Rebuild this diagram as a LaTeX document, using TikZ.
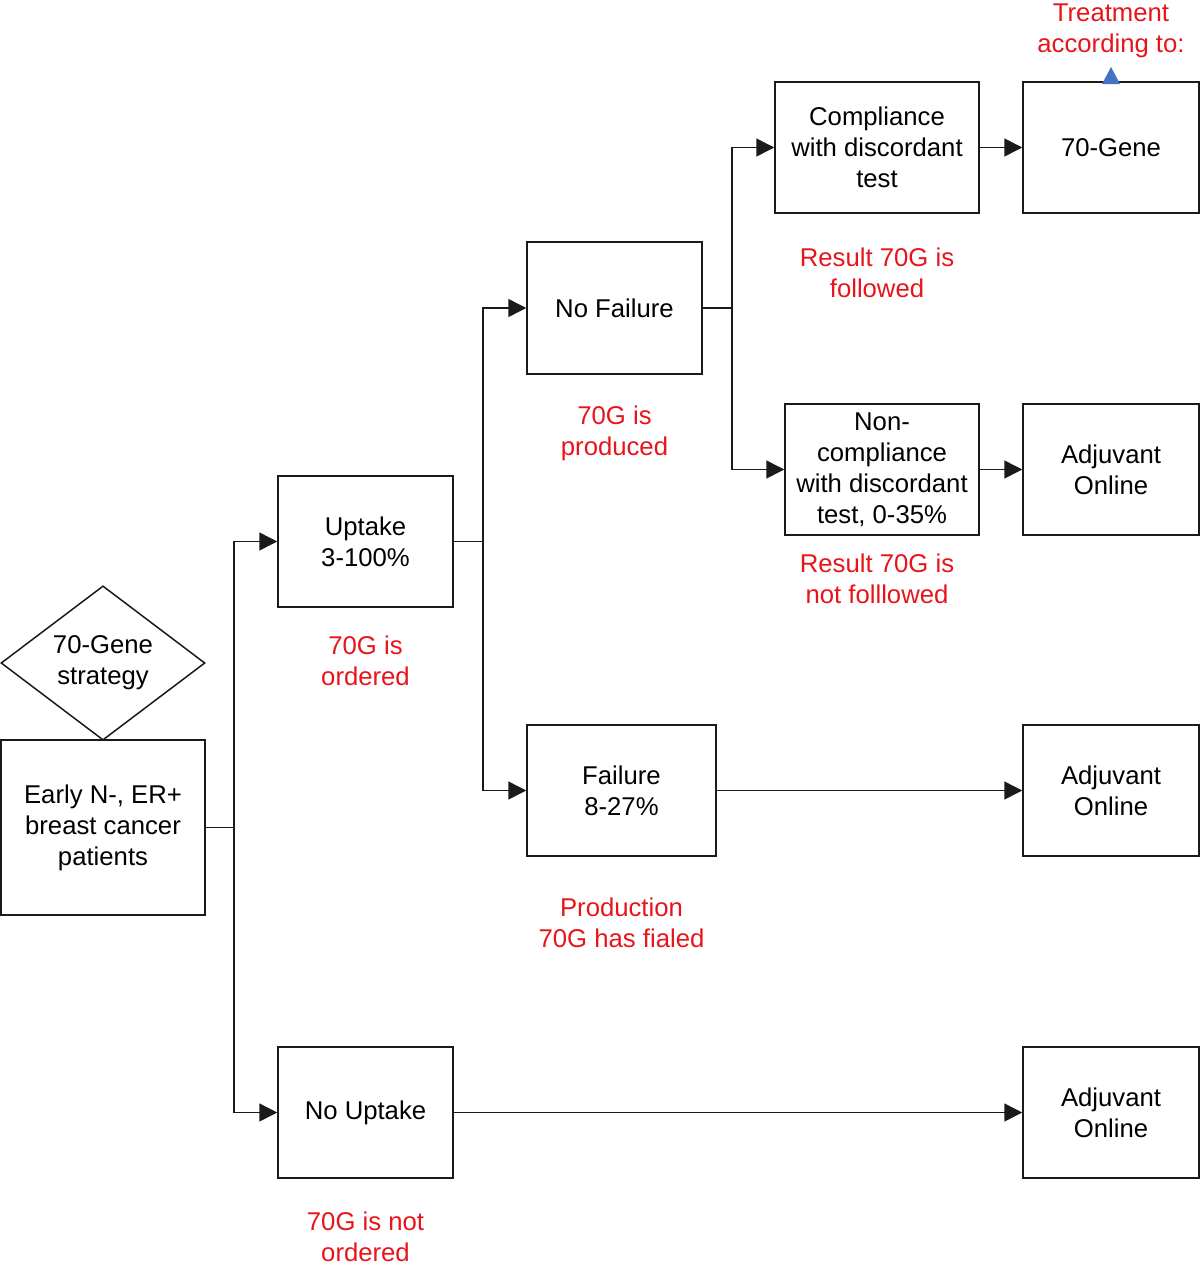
\documentclass[tikz,border=0pt]{standalone}
\usepackage{fontspec}
\setmainfont{Liberation Sans}
\usetikzlibrary{arrows.meta,shapes.geometric}
\definecolor{lblred}{HTML}{E8141B}
\definecolor{triblue}{HTML}{4472C4}
\definecolor{linegray}{HTML}{1A1A1A}
\begin{document}
\begin{tikzpicture}[x=1pt,y=-1pt,
  every node/.style={font=\fontsize{25.7}{31}\selectfont},
  box/.style={draw=linegray,line width=1.5pt,rectangle,inner sep=0pt,align=center},
  lbl/.style={text=lblred,align=center,inner sep=0pt},
  conn/.style={draw=linegray,line width=1.5pt},
  arr/.style={conn,-{Triangle[length=18pt,width=18pt]}}]
\useasboundingbox (0,0) rectangle (1200,1266);
% boxes
\node[box,minimum width=204pt,minimum height=175pt] (early) at (103,827.5) {Early N-, ER+\\breast cancer\\patients};
\node[draw=linegray,line width=1.5pt,diamond,inner sep=0pt,minimum width=204pt,minimum height=154pt,align=center] (strat) at (103,663) {70-Gene\\strategy};
\node[box,minimum width=175pt,minimum height=131pt] (up) at (365.5,541.5) {Uptake\\3-100\%};
\node[box,minimum width=175pt,minimum height=131pt] (nu) at (365.5,1112.5) {No Uptake};
\node[box,minimum width=175pt,minimum height=132pt] (nf) at (614.5,308) {No Failure};
\node[box,minimum width=189pt,minimum height=131pt] (fail) at (621.5,790.5) {Failure\\8-27\%};
\node[box,minimum width=204pt,minimum height=131pt] (comp) at (877,147.5) {Compliance\\with discordant\\test};
\node[box,minimum width=194pt,minimum height=131pt] (ncomp) at (882,469.5) {Non-\\compliance\\with discordant\\test, 0-35\%};
\node[box,minimum width=176pt,minimum height=131pt] (gene) at (1111,147.5) {70-Gene};
\node[box,minimum width=176pt,minimum height=131pt] (ao1) at (1111,469.5) {Adjuvant\\Online};
\node[box,minimum width=176pt,minimum height=131pt] (ao2) at (1111,790.5) {Adjuvant\\Online};
\node[box,minimum width=176pt,minimum height=131pt] (ao3) at (1111,1112.5) {Adjuvant\\Online};
% red labels
\node[lbl] (l1) at (365.5,661) {70G is\\ordered};
\node[lbl] (l2) at (614.5,433) {70G is\\produced};
\node[lbl] (l3) at (877,273) {Result 70G is\\followed};
\node[lbl] (l4) at (877,579) {Result 70G is\\not folllowed};
\node[lbl] (l5) at (621.5,923) {Production\\70G has fialed};
\node[lbl] (l6) at (365.5,1237) {70G is not\\ordered};
\node[lbl] (l7) at (1111,31) {Treatment\\according to:};
% blue triangle
\fill[triblue] (1102,84) -- (1111,67) -- (1120,84) -- cycle;
% connectors
\coordinate (j1) at (234,827.5);
\draw[conn] (early.east) -- (j1);
\draw[arr] (j1) |- (up.west);
\draw[arr] (j1) |- (nu.west);
\coordinate (j2) at (483,541.5);
\draw[conn] (up.east) -- (j2);
\draw[arr] (j2) |- (nf.west);
\draw[arr] (j2) |- (fail.west);
\coordinate (j3) at (732,308);
\draw[conn] (nf.east) -- (j3);
\draw[arr] (j3) |- (comp.west);
\draw[arr] (j3) |- (ncomp.west);
\draw[arr] (comp.east) -- (gene.west);
\draw[arr] (ncomp.east) -- (ao1.west);
\draw[arr] (fail.east) -- (ao2.west);
\draw[arr] (nu.east) -- (ao3.west);
\end{tikzpicture}
\end{document}
